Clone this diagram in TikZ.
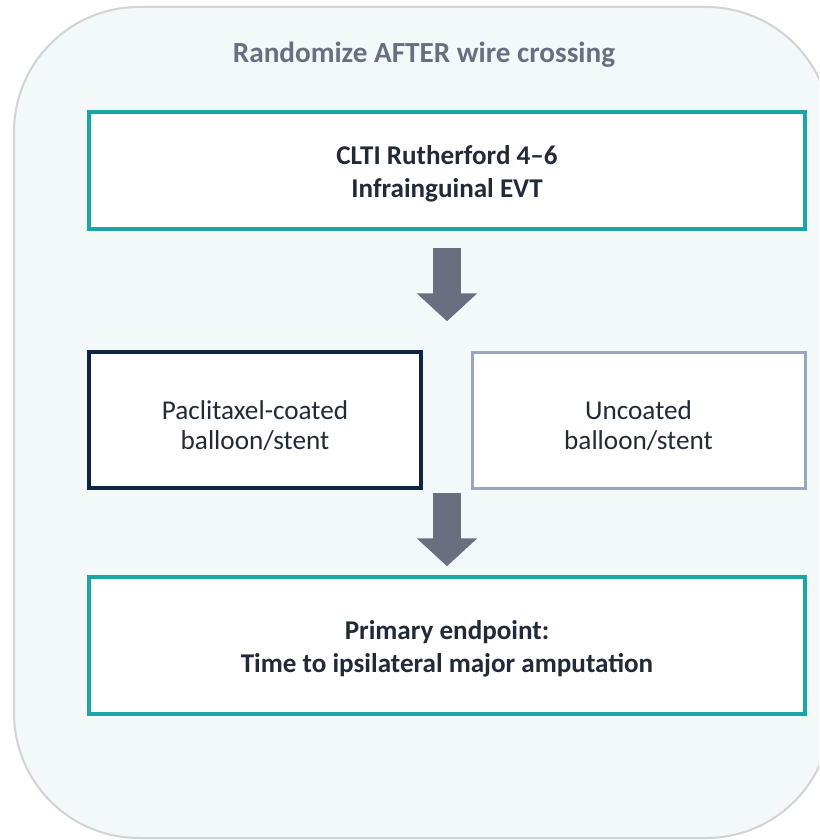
\documentclass[tikz,border=0pt]{standalone}
\usepackage{fontspec}
\setmainfont{Carlito}
\usetikzlibrary{arrows.meta}

\definecolor{panelfill}{HTML}{F3F8F9}
\definecolor{panelline}{HTML}{D2D2D8}
\definecolor{tealline}{HTML}{1BA6A6}
\definecolor{navyline}{HTML}{0F2441}
\definecolor{greyblue}{HTML}{9AA5BE}
\definecolor{arrowgrey}{HTML}{6A6E80}
\definecolor{titlegrey}{HTML}{6B6E80}
\definecolor{bodytext}{HTML}{222A38}

\tikzset{
  box/.style={rectangle, fill=white, line width=3.5pt, inner sep=0pt},
  tealbox/.style={box, draw=tealline},
  plaintext/.style={align=center, text=bodytext, font=\fontsize{27.2}{30.5}\selectfont},
  boldtext/.style={align=center, text=bodytext, font=\fontsize{27.1}{33}\selectfont\bfseries},
  bigarrow/.style={arrowgrey, line width=28pt,
    -{Triangle[width=59pt,length=28pt]}},
}

\begin{document}
\begin{tikzpicture}[x=1pt,y=-1pt]
\useasboundingbox (0,0) rectangle (819,840);
\clip (0,0) rectangle (819,840);

% background panel
\draw[fill=panelfill, draw=panelline, line width=2pt, rounded corners=125pt]
  (14,7) rectangle (831,838);

\node[font=\fontsize{29.2}{33}\selectfont\bfseries, text=titlegrey]
  (title) at (424,55) {Randomize AFTER wire crossing};

\node[tealbox, minimum width=716pt, minimum height=117pt,
  label={[boldtext, yshift=-3pt]center:{CLTI Rutherford 4--6\\Infrainguinal EVT}}]
  (top) at (447,170.5) {};

\node[box, draw=navyline, minimum width=332pt, minimum height=136pt,
  label={[plaintext, yshift=-5.5pt]center:{Paclitaxel-coated\\balloon/stent}}]
  (left) at (255,420) {};

\node[box, draw=greyblue, line width=3pt, minimum width=333pt, minimum height=136pt,
  label={[plaintext, yshift=-5.5pt]center:{Uncoated\\balloon/stent}}]
  (right) at (638.5,420) {};

\node[tealbox, minimum width=716pt, minimum height=137pt,
  label={[boldtext, yshift=-3pt]center:{Primary endpoint:\\Time to ipsilateral major amputation}}]
  (bottom) at (447,645.5) {};

% flow arrows
\draw[bigarrow] ([yshift=-17pt]top.south) -- ([yshift=29pt]top.south |- left.north);
\draw[bigarrow] ([yshift=-3pt]top.south |- left.south) -- ([yshift=9pt]bottom.north);
\end{tikzpicture}
\end{document}
